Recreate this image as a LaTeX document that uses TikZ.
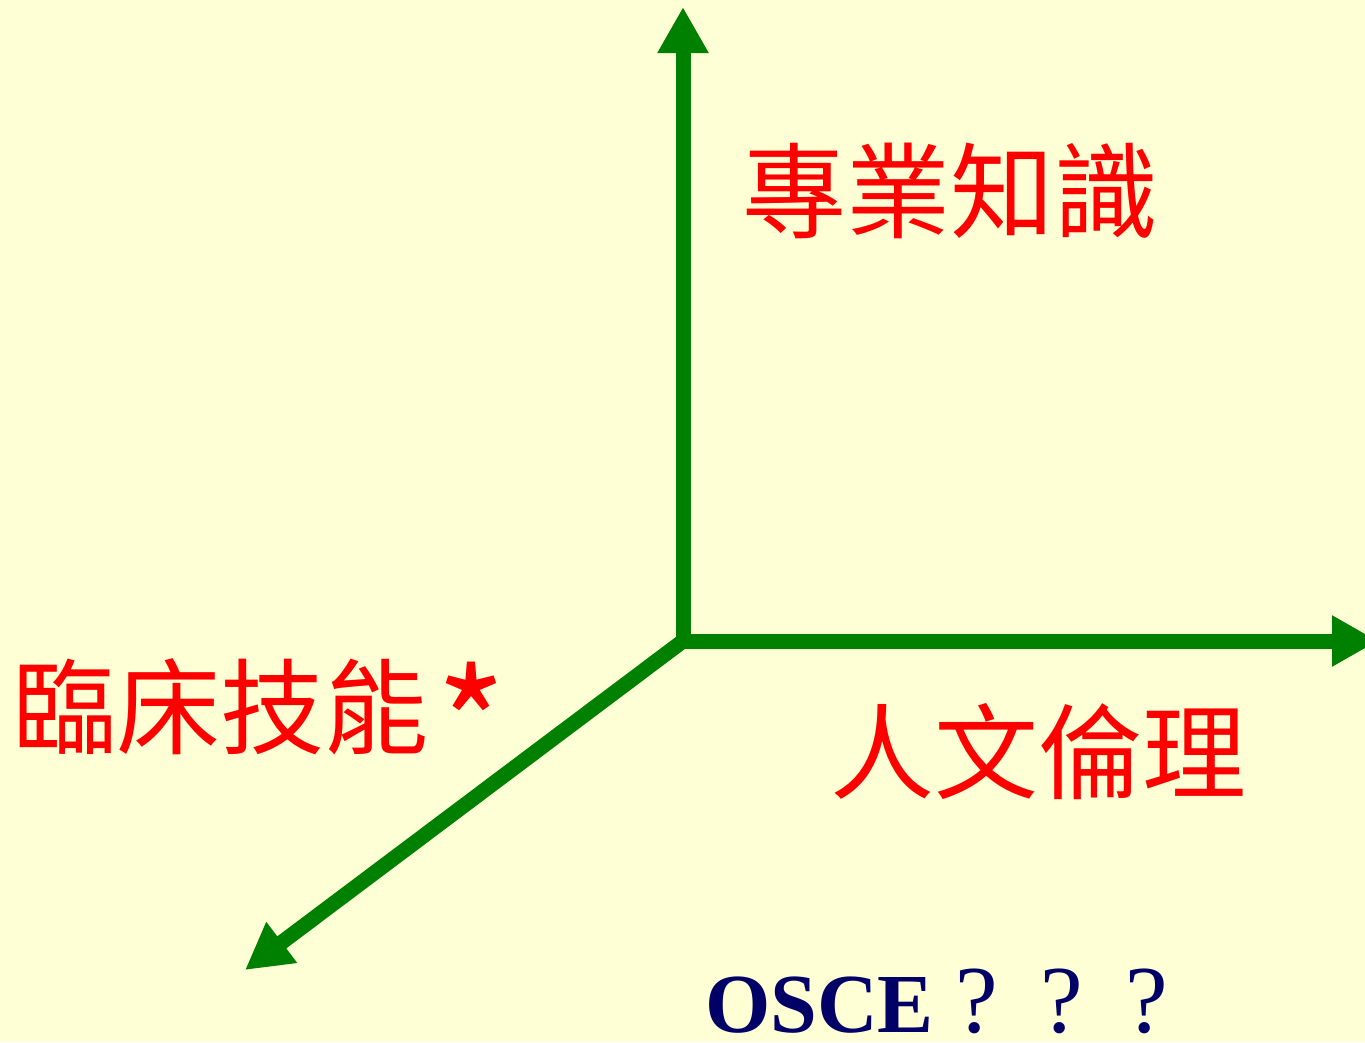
\documentclass[tikz,border=0pt]{standalone}
\usepackage{fontspec}
\setmainfont{Liberation Serif}
\newfontfamily\cjk{Noto Sans CJK TC}
\usetikzlibrary{arrows.meta}
\definecolor{bg}{RGB}{255,255,214}
\definecolor{axisgreen}{RGB}{0,128,0}
\definecolor{navy}{RGB}{0,0,102}
\tikzset{
  axis/.style={draw=axisgreen, line width=15pt, -{Triangle[length=46pt,width=48pt]}},
  lbl/.style={text=red, font=\cjk\fontsize{104}{110}\selectfont, inner sep=0pt},
}
\begin{document}
\begin{tikzpicture}[x=1pt,y=-1pt]
\fill[bg] (0,0) rectangle (1365,1042);
\useasboundingbox (0,0) rectangle (1365,1042);
\clip (0,0) rectangle (1365,1042);
\coordinate (O) at (683,641);
\coordinate (ytip) at (683,7);
\coordinate (xtip) at (1378,641);
\coordinate (ztip) at (245,970);
\draw[axis, line cap=rect] (O) -- (ytip);
\draw[axis, line cap=rect] (O) -- (xtip);
\draw[axis] (O) -- (ztip);
\node[lbl] (know) at (950,191) {專業知識};
\node[lbl, anchor=west] (skill) at (12,707) {臨床技能\hspace{8pt}\smash{\raisebox{-35pt}{\fontsize{150}{150}\selectfont *}}};
\node[lbl] (ethic) at (1038,752) {人文倫理};
\node[text=navy, anchor=base west, inner sep=0pt, font=\fontsize{84}{90}\selectfont] (osce) at (705,1032)
  {\raisebox{0pt}[\height][0pt]{\textbf{OSCE}\fontsize{96}{100}\selectfont\makebox[85pt][c]{?}\makebox[85pt][c]{?}\makebox[85pt][c]{?}}};
\end{tikzpicture}
\end{document}
